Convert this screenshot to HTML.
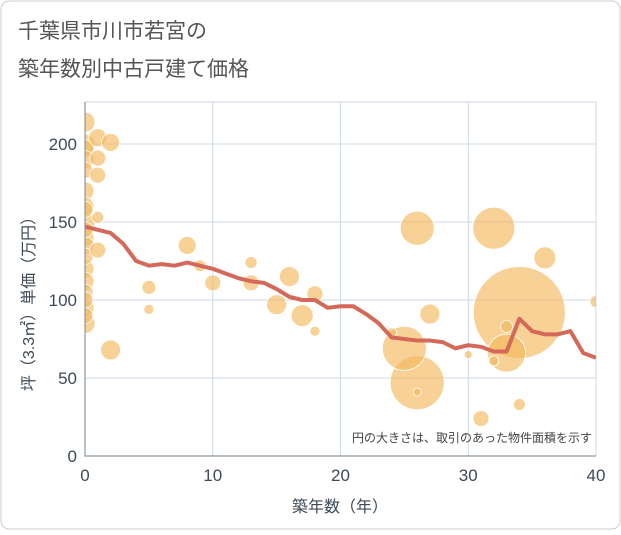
<!DOCTYPE html>
<html><head><meta charset="utf-8"><style>
body{margin:0;background:#fff;font-family:"Liberation Sans","Noto Sans CJK JP",sans-serif;}
#wrap{position:relative;width:621px;height:530px;}
</style></head><body>
<div id="wrap">
<svg id="chart" width="621" height="530" xmlns="http://www.w3.org/2000/svg">
<defs><clipPath id="plotclip"><rect x="85" y="102" width="511" height="354"/></clipPath></defs>
<rect x="1" y="1" width="619" height="528" rx="8" fill="#fff" stroke="#ccc"/>
<text x="18" y="38" font-size="21" fill="#555">千葉県市川市若宮の</text>
<text x="18" y="76" font-size="21" fill="#555">築年数別中古戸建て価格</text>
<g id="grid"></g><g id="bubbles" clip-path="url(#plotclip)"></g><g id="line" clip-path="url(#plotclip)"></g><g id="axes"></g>
<text x="592" y="442" font-size="12" fill="#444" text-anchor="end">円の大きさは、取引のあった物件面積を示す</text>
<text x="340" y="512" font-size="16" fill="#3d4a57" text-anchor="middle">築年数（年）</text>
<text transform="translate(34,300) rotate(-90)" font-size="16" fill="#3d4a57" text-anchor="middle">坪（3.3㎡）単価（万円）</text>
</svg></div>
<script>
const xTicks=[0,10,20,30,40];
const yTicks=[0,50,100,150,200];
const bubbleX=[0,0,0,0,0,0,0,0,0,0,0,0,0,0,0,0,0,0,0,0,1,1,1,1,1,2,2,5,5,8,9,10,13,13,15,16,17,18,18,26,32,36,34,27,25,26,26,33,33,32,30,34,31,40,24];
const bubbleY=[214,200,197,190,183,170,160,150,140,135,128,120,112,105,100,95,90,85,145,158,204,191,180,153,132,201,68,108,94,135,122,111,124,111,97,115,90,104,80,146,146,127,92,91,69,47,41,66,83,61,65,33,24,99,79];
const bubbleR=[10,10,9,9,8,9,9,10,9,9,8,9,9,8,8,9,8,10,8,8,9,8,8,6,8,9,10,7,5,9,6,8,6,8,10,10,11,8,5,17,21,11,46,10,22,27,4,19,6,5,4,6,8,6,5];
const lineX=[0,1,2,3,4,5,6,7,8,9,10,11,12,13,14,15,16,17,18,19,20,21,22,23,24,25,26,27,28,29,30,31,32,33,34,35,36,37,38,39,40];
const lineY=[147,145,143,136,125,122,123,122,124,122,120,117,114,112,111,107,102,100,100,95,96,96,91,85,76,75,74,74,73,69,71,70,67,67,88,80,78,78,80,66,63];
const X0=85,X1=596,Y0=456,Y1=102;
const sx=v=>X0+(X1-X0)*v/40;
const sy=v=>Y0-v*1.56;
const NS="http://www.w3.org/2000/svg";
function mk(t,a,p){const e=document.createElementNS(NS,t);for(const k in a)e.setAttribute(k,a[k]);p.appendChild(e);return e;}
const grid=document.getElementById('grid');
const axes=document.getElementById('axes');
mk('rect',{x:X0,y:Y1,width:X1-X0,height:Y0-Y1,fill:'none',stroke:'#cdd6e0'},grid);
xTicks.forEach(t=>{const l=mk('line',{x1:sx(t),x2:sx(t),y1:Y1,y2:Y0,stroke:'#cdd9e5'},grid);


const tx=mk('text',{x:sx(t),y:481,'font-size':17,fill:'#3d4a57','text-anchor':'middle'},axes);tx.textContent=t;

});
yTicks.forEach(t=>{const l=mk('line',{x1:X0,x2:X1,y1:sy(t),y2:sy(t),stroke:'#cdd9e5'},grid);


const tx=mk('text',{x:77,y:sy(t)+6,'font-size':17,fill:'#3d4a57','text-anchor':'end'},axes);tx.textContent=t;

});
const ax=mk('path',{d:`M${X0} ${Y1}V${Y0}H${X1}`,fill:'none',stroke:'#8a96a3','stroke-width':1.2},axes);


const bg=document.getElementById('bubbles');
const idx=bubbleR.map((r,i)=>i).sort((a,b)=>bubbleR[b]-bubbleR[a]);
idx.forEach(i=>{const c=mk('circle',{cx:sx(bubbleX[i]),cy:sy(bubbleY[i]),r:bubbleR[i],fill:'rgba(242,184,92,0.65)',stroke:'#fff','stroke-width':0.8},bg);

});
const pts=lineX.map((x,i)=>sx(x)+','+sy(lineY[i])).join(' ');
const pl=mk('polyline',{points:pts,fill:'none',stroke:'#d4695a','stroke-width':4,'stroke-linejoin':'round'},document.getElementById('line'));


</script>
</body></html>
